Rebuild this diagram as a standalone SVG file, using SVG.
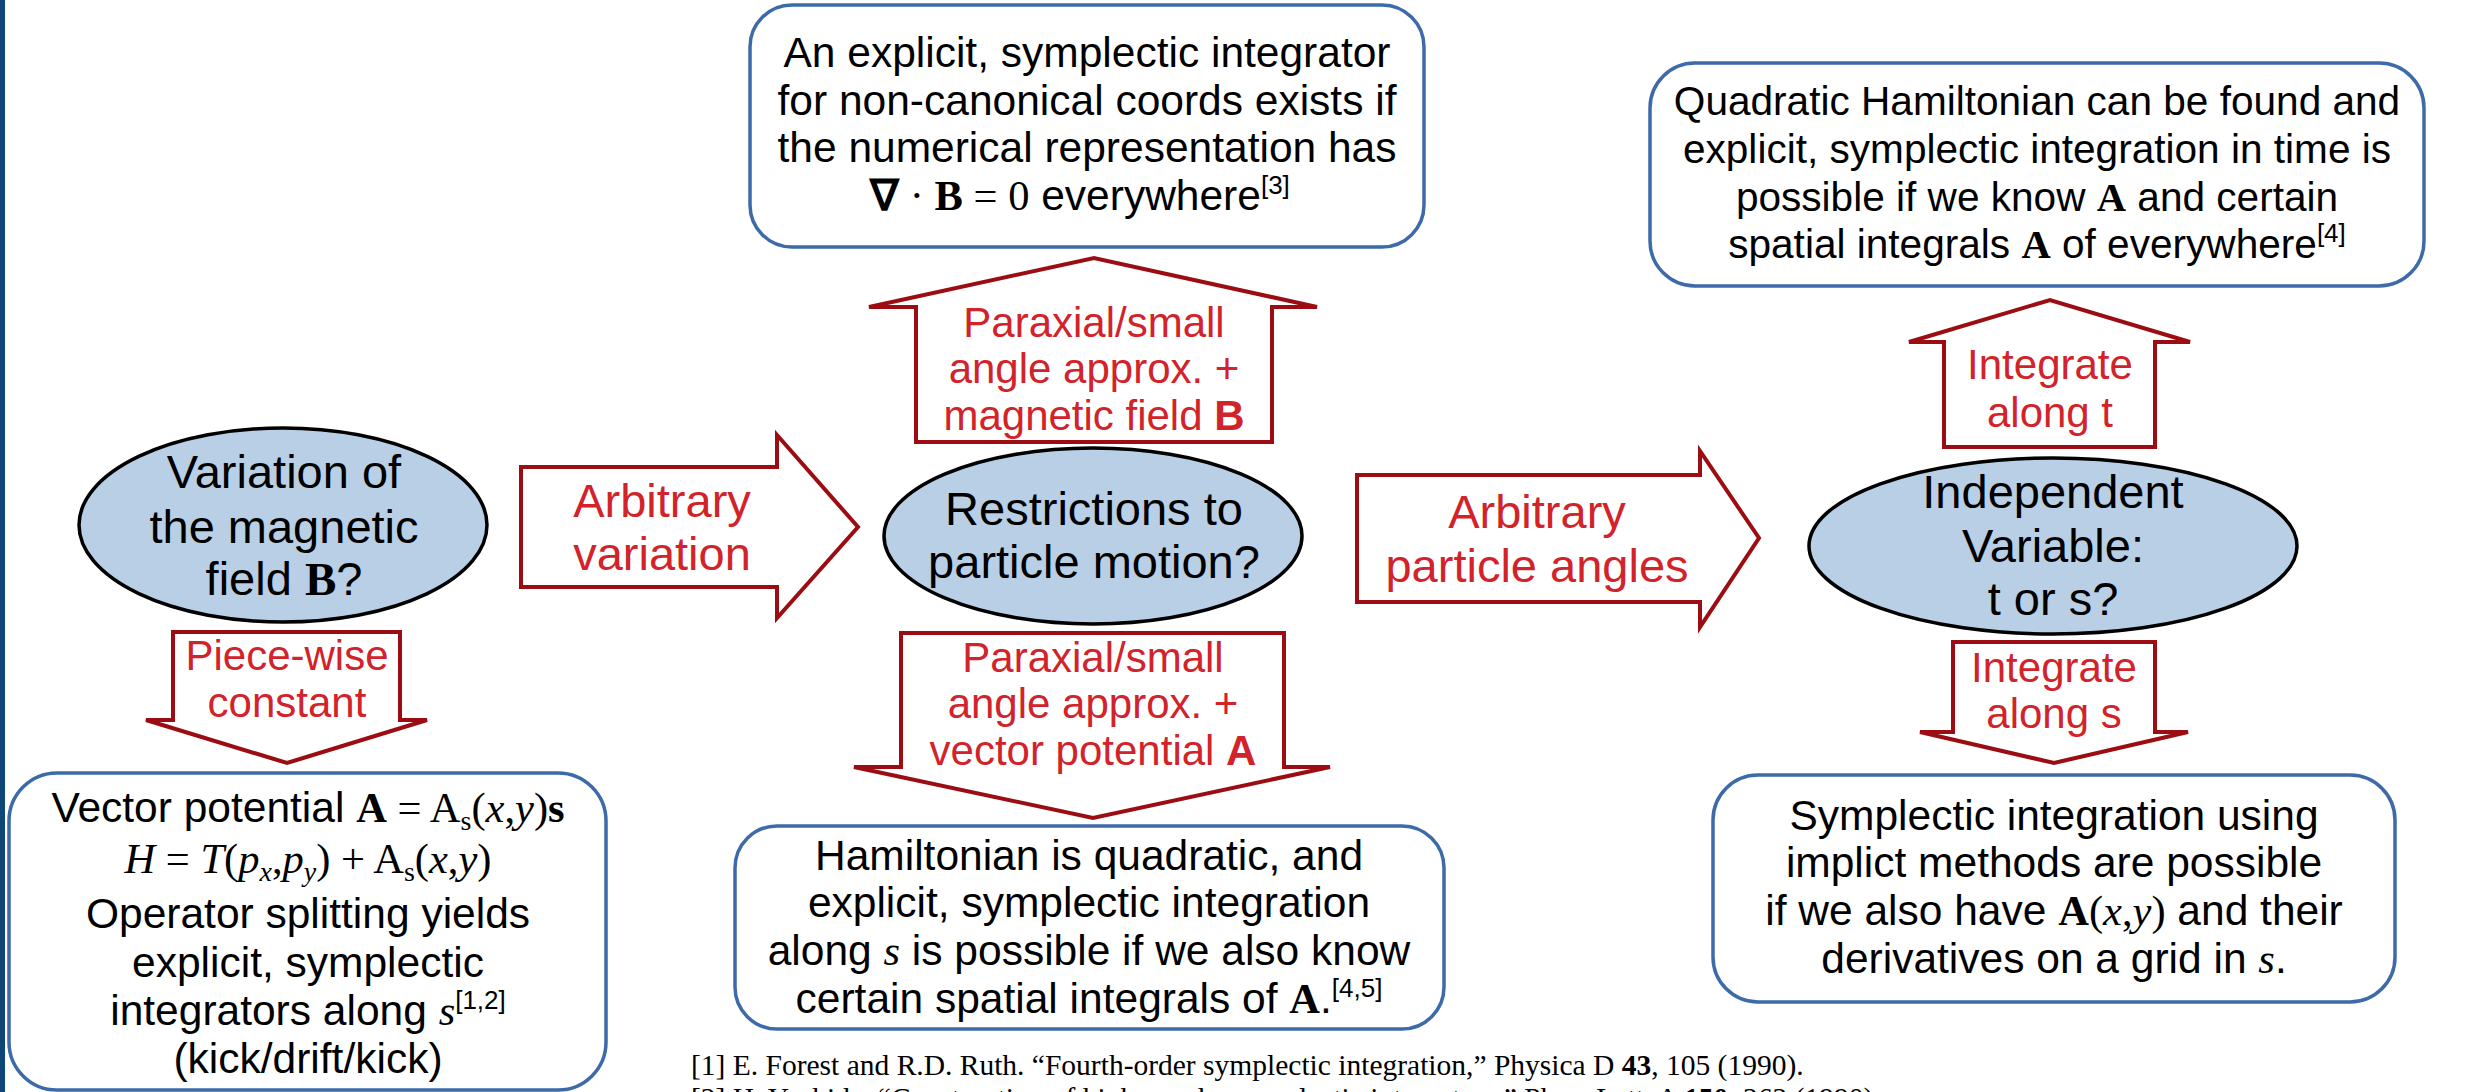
<svg xmlns="http://www.w3.org/2000/svg" width="2468" height="1092" viewBox="0 0 2468 1092">
<style>
.bg{fill:#ffffff}
.bar{fill:#0e4677}
.ell{fill:#b8cfe6;stroke:#000000;stroke-width:3.5}
.box{fill:#ffffff;stroke:#3d6aa8;stroke-width:3.5}
.arr{fill:#ffffff;stroke:#9b0d12;stroke-width:4;stroke-linejoin:miter}
text{font-family:"Liberation Sans",Arial,sans-serif;text-anchor:middle}
.big{font-size:47px;fill:#000000}
.bt{font-size:42.5px;fill:#000000}
.bt2{font-size:40.6px;fill:#000000}
.rbig{font-size:47px;fill:#d2232a}
.rt{font-size:42px;fill:#d2232a}
.m{font-family:"Liberation Serif","Times New Roman",serif}
.b{font-weight:bold}
.i{font-style:italic}
.sup{font-size:26px}
.sub{font-size:28px}
.ref{font-family:"Liberation Serif","Times New Roman",serif;font-size:29.5px;fill:#000000;text-anchor:start}
</style>
<rect class="bg" x="0" y="0" width="2468" height="1092"/>
<rect class="bar" x="0" y="0" width="5" height="1092"/>

<g id="connectors">
  <polygon id="arrow-arbitrary-variation" class="arr" points="521,467 777,467 777,435 858,527 777,618 777,587 521,587"/>
  <polygon id="arrow-arbitrary-angles" class="arr" points="1357,475 1700,475 1700,451 1759,538 1700,627 1700,602 1357,602"/>
  <polygon id="arrow-piecewise" class="arr" points="173,632 400,632 400,720 427,720 287,763 146,720 173,720"/>
  <polygon id="arrow-paraxial-B" class="arr" points="916,442 916,307 869,307 1094,258 1317,307 1272,307 1272,442"/>
  <polygon id="arrow-paraxial-A" class="arr" points="901,633 1284,633 1284,767 1330,767 1093,818 854,767 901,767"/>
  <polygon id="arrow-along-t" class="arr" points="1944,447 1944,342 1909,342 2050,300 2190,342 2155,342 2155,447"/>
  <polygon id="arrow-along-s" class="arr" points="1953,642 2155,642 2155,732 2188,732 2054,763 1920,732 1953,732"/>
  <text class="rbig" x="662" y="517">Arbitrary</text>
  <text class="rbig" x="662" y="570">variation</text>
  <text class="rbig" x="1537" y="528">Arbitrary</text>
  <text class="rbig" x="1537" y="582">particle angles</text>
  <text class="rt" x="287" y="670">Piece-wise</text>
  <text class="rt" x="287" y="717">constant</text>
  <text class="rt" x="1094" y="337">Paraxial/small</text>
  <text class="rt" x="1094" y="383">angle approx. +</text>
  <text class="rt" x="1094" y="430">magnetic field <tspan class="b">B</tspan></text>
  <text class="rt" x="1093" y="672">Paraxial/small</text>
  <text class="rt" x="1093" y="718">angle approx. +</text>
  <text class="rt" x="1093" y="765">vector potential <tspan class="b">A</tspan></text>
  <text class="rt" x="2050" y="379">Integrate</text>
  <text class="rt" x="2050" y="427">along t</text>
  <text class="rt" x="2054" y="682">Integrate</text>
  <text class="rt" x="2054" y="728">along s</text>
</g>

<g id="node-variation">
  <ellipse class="ell" cx="283" cy="525" rx="204" ry="97"/>
  <text class="big" x="284" y="488">Variation of</text>
  <text class="big" x="284" y="543">the magnetic</text>
  <text class="big" x="284" y="595">field <tspan class="m b">B</tspan>?</text>
</g>

<g id="node-restrictions">
  <ellipse class="ell" cx="1093" cy="536" rx="209" ry="88"/>
  <text class="big" x="1094" y="525">Restrictions to</text>
  <text class="big" x="1094" y="578">particle motion?</text>
</g>

<g id="node-independent">
  <ellipse class="ell" cx="2053" cy="546" rx="244" ry="88"/>
  <text class="big" x="2053" y="508">Independent</text>
  <text class="big" x="2053" y="562">Variable:</text>
  <text class="big" x="2053" y="615">t or s?</text>
</g>

<g id="node-explicit-noncanonical">
  <rect class="box" x="750" y="5" width="674" height="242" rx="42" ry="42"/>
  <text class="bt" x="1087" y="67">An explicit, symplectic integrator</text>
  <text class="bt" x="1087" y="115">for non-canonical coords exists if</text>
  <text class="bt" x="1087" y="162">the numerical representation has</text>
  <text class="bt" x="1080" y="210"><tspan class="m b">∇</tspan><tspan class="m"> · </tspan><tspan class="m b">B</tspan><tspan class="m"> = 0</tspan> everywhere<tspan class="sup" dy="-16">[3]</tspan></text>
</g>

<g id="node-vector-potential">
  <rect class="box" x="9" y="773" width="597" height="317" rx="48" ry="48"/>
  <text class="bt" x="308" y="822">Vector potential <tspan class="m b">A</tspan><tspan class="m"> = A</tspan><tspan class="m sub" dy="8">s</tspan><tspan class="m" dy="-8">(</tspan><tspan class="m i">x</tspan><tspan class="m">,</tspan><tspan class="m i">y</tspan><tspan class="m">)</tspan><tspan class="m b">s</tspan></text>
  <text class="bt m" x="308" y="873"><tspan class="i">H</tspan> = <tspan class="i">T</tspan>(<tspan class="i">p</tspan><tspan class="i sub" dy="8">x</tspan><tspan dy="-8">,</tspan><tspan class="i">p</tspan><tspan class="i sub" dy="8">y</tspan><tspan dy="-8">) + A</tspan><tspan class="sub" dy="8">s</tspan><tspan dy="-8">(</tspan><tspan class="i">x</tspan>,<tspan class="i">y</tspan>)</text>
  <text class="bt" x="308" y="928">Operator splitting yields</text>
  <text class="bt" x="308" y="977">explicit, symplectic</text>
  <text class="bt" x="308" y="1025">integrators along <tspan class="m i">s</tspan><tspan class="sup" dy="-16">[1,2]</tspan></text>
  <text class="bt" x="308" y="1073">(kick/drift/kick)</text>
</g>

<g id="node-hamiltonian-quadratic">
  <rect class="box" x="735" y="826" width="709" height="203" rx="42" ry="42"/>
  <text class="bt" x="1089" y="870">Hamiltonian is quadratic, and</text>
  <text class="bt" x="1089" y="917">explicit, symplectic integration</text>
  <text class="bt" x="1089" y="965">along <tspan class="m i">s</tspan> is possible if we also know</text>
  <text class="bt" x="1089" y="1013">certain spatial integrals of <tspan class="m b">A</tspan>.<tspan class="sup" dy="-16">[4,5]</tspan></text>
</g>

<g id="node-quadratic-time">
  <rect class="box" x="1650" y="63" width="774" height="223" rx="45" ry="45"/>
  <text class="bt2" x="2037" y="115">Quadratic Hamiltonian can be found and</text>
  <text class="bt2" x="2037" y="163">explicit, symplectic integration in time is</text>
  <text class="bt2" x="2037" y="211">possible if we know <tspan class="m b">A</tspan> and certain</text>
  <text class="bt2" x="2037" y="258">spatial integrals <tspan class="m b">A</tspan> of everywhere<tspan class="sup" dy="-16">[4]</tspan></text>
</g>

<g id="node-implicit">
  <rect class="box" x="1713" y="775" width="682" height="227" rx="45" ry="45"/>
  <text class="bt" x="2054" y="830">Symplectic integration using</text>
  <text class="bt" x="2054" y="877">implict methods are possible</text>
  <text class="bt" x="2054" y="925">if we also have <tspan class="m b">A</tspan><tspan class="m">(</tspan><tspan class="m i">x</tspan><tspan class="m">,</tspan><tspan class="m i">y</tspan><tspan class="m">)</tspan> and their</text>
  <text class="bt" x="2054" y="973">derivatives on a grid in <tspan class="m i">s</tspan>.</text>
</g>

<g id="references">
  <text class="ref" x="691" y="1075">[1] E. Forest and R.D. Ruth. “Fourth-order symplectic integration,” Physica D <tspan class="b">43</tspan>, 105 (1990).</text>
  <text class="ref" x="691" y="1108">[2] H. Yoshida. “Construction of higher order symplectic integrators,” Phys. Lett. A <tspan class="b">150</tspan>, 262 (1990).</text>
</g>
</svg>
